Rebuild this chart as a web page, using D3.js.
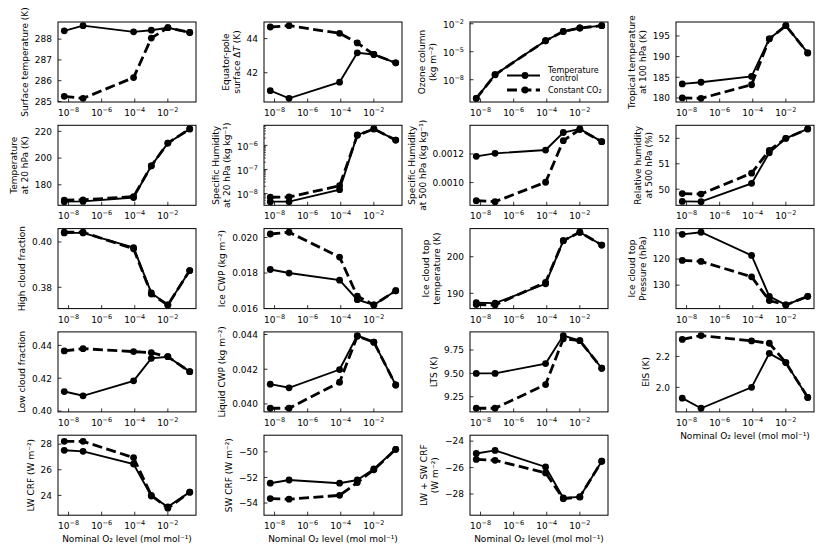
<!DOCTYPE html>
<html lang="en">
<head>
<meta charset="UTF-8">
<title>O2 sensitivity panels</title>
<script src="https://cdn.jsdelivr.net/npm/d3@7/dist/d3.min.js"></script>
<style>
body { margin: 0; background: #fff; }
svg text { font-family: "DejaVu Sans", sans-serif; font-size: 9px; fill: #000; }
</style>
</head>
<body>
<script>
// nominal O2 mixing ratio, shared x of every panel
var o2Levels = [5.5e-9, 7.5e-8, 8.5e-5, 1e-3, 1e-2, 0.21];
var xTicks = [1e-8, 1e-6, 1e-4, 1e-2];
var xLabel = "Nominal O\u2082 level (mol mol\u207B\u00B9)";
var seriesNames = ["Temperature\n control", "Constant CO\u2082"];

// "Ctrl" = temperature control runs, "CO2" = constant CO2 runs
var surfTempCtrl = [288.40, 288.65, 288.35, 288.43, 288.55, 288.32];
var surfTempCO2  = [285.25, 285.15, 286.15, 288.05, 288.55, 288.32];
var surfTempTicks = [285, 286, 287, 288];

var eqPoleCtrl = [40.95, 40.5, 41.45, 43.17, 43.07, 42.58];
var eqPoleCO2  = [44.68, 44.76, 44.31, 43.75, 43.07, 42.58];
var eqPoleTicks = [42, 44];

var ozoneCtrl = [1e-10, 3.5e-8, 1.5e-4, 1.5e-3, 3.5e-3, 6.3e-3];
var ozoneCO2  = [1e-10, 3.4e-8, 1.5e-4, 1.5e-3, 3.5e-3, 6.3e-3];
var ozoneTicks = [1e-8, 1e-5, 1e-2];

var trop100Ctrl = [183.4, 183.8, 185.2, 194.3, 197.5, 190.9];
var trop100CO2  = [180.0, 179.9, 183.2, 194.3, 197.5, 190.9];
var trop100Ticks = [180, 185, 190, 195];

var temp20Ctrl = [167.4, 167.6, 170.5, 194.2, 211.2, 221.8];
var temp20CO2  = [168.6, 168.8, 171.2, 194.2, 211.2, 221.8];
var temp20Ticks = [180, 200, 220];

var sh20Ctrl = [4.6e-9, 4.6e-9, 1.45e-8, 2.7e-6, 4.8e-6, 1.65e-6];
var sh20CO2  = [7.0e-9, 7.2e-9, 2.1e-8, 2.6e-6, 4.8e-6, 1.65e-6];
var sh20Ticks = [1e-8, 1e-7, 1e-6];

var sh500Ctrl = [0.001184, 0.001205, 0.001228, 0.001351, 0.001376, 0.001287];
var sh500CO2  = [0.000873, 0.000866, 0.001002, 0.001294, 0.001372, 0.001287];
var sh500Ticks = [0.0010, 0.0012];

var rh500Ctrl = [49.52, 49.51, 50.23, 51.43, 52.0, 52.37];
var rh500CO2  = [49.83, 49.81, 50.63, 51.53, 52.0, 52.37];
var rh500Ticks = [50, 51, 52];

var highCldCtrl = [0.4040, 0.4040, 0.3975, 0.3775, 0.3722, 0.3874];
var highCldCO2  = [0.4043, 0.4043, 0.3970, 0.3770, 0.3722, 0.3874];
var highCldTicks = [0.38, 0.40];

var iceCwpCtrl = [0.0182, 0.0180, 0.0176, 0.0165, 0.0162, 0.0170];
var iceCwpCO2  = [0.0202, 0.0203, 0.0189, 0.0167, 0.0162, 0.0170];
var iceCwpTicks = [0.016, 0.018, 0.020];

var iceTopTCtrl = [187.4, 187.3, 192.6, 204.4, 206.7, 203.2];
var iceTopTCO2  = [186.9, 186.8, 193.0, 204.4, 206.7, 203.2];
var iceTopTTicks = [190, 200];

var iceTopPCtrl = [110.5, 109.7, 118.6, 134.3, 137.6, 134.3];
var iceTopPCO2  = [120.5, 120.9, 126.8, 135.9, 137.6, 134.3];
var iceTopPTicks = [110, 120, 130];

var lowCldCtrl = [0.4119, 0.4093, 0.4184, 0.4321, 0.4331, 0.4240];
var lowCldCO2  = [0.4366, 0.4380, 0.4362, 0.4356, 0.4331, 0.4240];
var lowCldTicks = [0.40, 0.42, 0.44];

var liqCwpCtrl = [0.04114, 0.04093, 0.04198, 0.04394, 0.04356, 0.04109];
var liqCwpCO2  = [0.03975, 0.03975, 0.04125, 0.04390, 0.04356, 0.04109];
var liqCwpTicks = [0.040, 0.042, 0.044];

var ltsCtrl = [9.50, 9.50, 9.605, 9.905, 9.85, 9.555];
var ltsCO2  = [9.127, 9.127, 9.38, 9.87, 9.85, 9.555];
var ltsTicks = [9.25, 9.50, 9.75];

var eisCtrl = [1.93, 1.865, 2.0, 2.22, 2.16, 1.935];
var eisCO2  = [2.31, 2.335, 2.30, 2.285, 2.16, 1.935];
var eisTicks = [2.0, 2.2];

var lwCrfCtrl = [27.52, 27.44, 26.45, 23.95, 23.1, 24.25];
var lwCrfCO2  = [28.22, 28.22, 26.95, 24.0, 23.0, 24.25];
var lwCrfTicks = [24, 26, 28];

var swCrfCtrl = [-52.45, -52.2, -52.45, -52.2, -51.34, -49.8];
var swCrfCO2  = [-53.65, -53.7, -53.4, -52.4, -51.4, -49.8];
var swCrfTicks = [-54, -52, -50];

var netCrfCtrl = [-24.93, -24.7, -25.95, -28.3, -28.22, -25.52];
var netCrfCO2  = [-25.38, -25.45, -26.4, -28.35, -28.22, -25.52];
var netCrfTicks = [-28, -26, -24];

var panels = [
  {label: ["Surface temperature (K)"], ctrl: surfTempCtrl, co2: surfTempCO2, ticks: surfTempTicks, fmt: ".0f"},
  {label: ["Equator-pole", "surface \u0394_T_ (K)"], ctrl: eqPoleCtrl, co2: eqPoleCO2, ticks: eqPoleTicks, fmt: ".0f"},
  {label: ["Ozone column", "(kg m\u207B\u00B2)"], ctrl: ozoneCtrl, co2: ozoneCO2, ticks: ozoneTicks, log: true, legend: true},
  {label: ["Tropical temperature", "at 100 hPa (K)"], ctrl: trop100Ctrl, co2: trop100CO2, ticks: trop100Ticks, fmt: ".0f"},
  {label: ["Temperature", "at 20 hPa (K)"], ctrl: temp20Ctrl, co2: temp20CO2, ticks: temp20Ticks, fmt: ".0f"},
  {label: ["Specific Humidity", "at 20 hPa (kg kg\u207B\u00B9)"], ctrl: sh20Ctrl, co2: sh20CO2, ticks: sh20Ticks, log: true, minor: true},
  {label: ["Specific Humidity", "at 500 hPa (kg kg\u207B\u00B9)"], ctrl: sh500Ctrl, co2: sh500CO2, ticks: sh500Ticks, fmt: ".4f"},
  {label: ["Relative humidity", "at 500 hPa (%)"], ctrl: rh500Ctrl, co2: rh500CO2, ticks: rh500Ticks, fmt: ".0f"},
  {label: ["High cloud fraction"], ctrl: highCldCtrl, co2: highCldCO2, ticks: highCldTicks, fmt: ".2f"},
  {label: ["Ice CWP (kg m\u207B\u00B2)"], ctrl: iceCwpCtrl, co2: iceCwpCO2, ticks: iceCwpTicks, fmt: ".3f"},
  {label: ["Ice cloud top", "temperature (K)"], ctrl: iceTopTCtrl, co2: iceTopTCO2, ticks: iceTopTTicks, fmt: ".0f"},
  {label: ["Ice cloud top", "Pressure (hPa)"], ctrl: iceTopPCtrl, co2: iceTopPCO2, ticks: iceTopPTicks, fmt: ".0f", invert: true},
  {label: ["Low cloud fraction"], ctrl: lowCldCtrl, co2: lowCldCO2, ticks: lowCldTicks, fmt: ".2f", lim: [0.3995, 0.4482]},
  {label: ["Liquid CWP (kg m\u207B\u00B2)"], ctrl: liqCwpCtrl, co2: liqCwpCO2, ticks: liqCwpTicks, fmt: ".3f"},
  {label: ["LTS (K)"], ctrl: ltsCtrl, co2: ltsCO2, ticks: ltsTicks, fmt: ".2f"},
  {label: ["EIS (K)"], ctrl: eisCtrl, co2: eisCO2, ticks: eisTicks, fmt: ".1f"},
  {label: ["LW CRF (W m\u207B\u00B2)"], ctrl: lwCrfCtrl, co2: lwCrfCO2, ticks: lwCrfTicks, fmt: ".0f", lim: [22.45, 28.7]},
  {label: ["SW CRF (W m\u207B\u00B2)"], ctrl: swCrfCtrl, co2: swCrfCO2, ticks: swCrfTicks, fmt: ".0f", lim: [-54.95, -48.7]},
  {label: ["LW + SW CRF", "(W m\u207B\u00B2)"], ctrl: netCrfCtrl, co2: netCrfCO2, ticks: netCrfTicks, fmt: ".0f", lim: [-29.6, -23.55]}
];

var W = 830, H = 554;
var colLeft = [58, 264, 470, 676];
var rowTop = [22, 125.3, 228.6, 331.9, 435.2];
var pw = 138, ph = 80;
var tickLen = 3.5;
var dashes = "10,4.4";

var svg = d3.select("body").append("svg")
  .attr("width", W).attr("height", H);

function padLin(vals) {
  var lo = d3.min(vals), hi = d3.max(vals), m = (hi - lo) * 0.05;
  return [lo - m, hi + m];
}
function padLog(vals) {
  var lo = Math.log10(d3.min(vals)), hi = Math.log10(d3.max(vals)), m = (hi - lo) * 0.05;
  return [Math.pow(10, lo - m), Math.pow(10, hi + m)];
}
// "10" with raised exponent, like matplotlib's log labels
function powLabel(t, v) {
  var e = Math.round(Math.log10(v));
  t.text("10");
  t.append("tspan").attr("dy", -4).attr("font-size", "6.5px")
    .text(e < 0 ? "\u2212" + (-e) : "" + e);
}
// one line of an axis label, _x_ marks italic
function richText(t, str) {
  str.split(/(_[^_]+_)/).forEach(function(part) {
    if (!part) return;
    var s = t.append("tspan");
    if (part[0] === "_") s.text(part.slice(1, -1)).attr("font-style", "italic");
    else s.text(part);
  });
}

var x = d3.scaleLog().domain(padLog(o2Levels)).range([0, pw]);

panels.forEach(function(p, i) {
  var r = Math.floor(i / 4), c = i % 4;
  var g = svg.append("g").attr("transform", "translate(" + colLeft[c] + "," + rowTop[r] + ")");
  var both = p.ctrl.concat(p.co2);
  var y = p.log ? d3.scaleLog() : d3.scaleLinear();
  y.domain(p.lim || (p.log ? padLog(both) : padLin(both)))
   .range(p.invert ? [0, ph] : [ph, 0]);

  var line = d3.line()
    .x(function(d, k) { return x(o2Levels[k]); })
    .y(function(d) { return y(d); });

  [p.ctrl, p.co2].forEach(function(s, k) {
    g.append("path").datum(s)
      .attr("d", line)
      .attr("fill", "none")
      .attr("stroke", "#000")
      .attr("stroke-width", k ? 2.8 : 1.9)
      .attr("stroke-dasharray", k ? dashes : null);
    g.selectAll(null).data(s).enter().append("circle")
      .attr("cx", function(d, j) { return x(o2Levels[j]); })
      .attr("cy", function(d) { return y(d); })
      .attr("r", 3.4)
      .attr("fill", "#000");
  });

  // x ticks (inward) and labels
  xTicks.forEach(function(t) {
    g.append("line").attr("x1", x(t)).attr("x2", x(t))
      .attr("y1", ph).attr("y2", ph - tickLen)
      .attr("stroke", "#000").attr("stroke-width", 0.8);
    var lab = g.append("text").attr("x", x(t)).attr("y", ph + 14)
      .attr("text-anchor", "middle");
    powLabel(lab, t);
  });

  // y ticks
  var yt = g.append("g");
  p.ticks.forEach(function(t) {
    g.append("line").attr("x1", 0).attr("x2", tickLen)
      .attr("y1", y(t)).attr("y2", y(t))
      .attr("stroke", "#000").attr("stroke-width", 0.8);
    var lab = yt.append("text").attr("x", -6)
      .attr("y", y(t) + (p.log ? 4.6 : 3.3))
      .attr("text-anchor", "end");
    if (p.log) powLabel(lab, t);
    else lab.text(d3.format(p.fmt)(t));
  });
  if (p.minor) {
    var dom = y.domain();
    for (var e = Math.floor(Math.log10(dom[0])); e <= Math.ceil(Math.log10(dom[1])); e++) {
      for (var m = 2; m < 10; m++) {
        var v = m * Math.pow(10, e);
        if (v < dom[0] || v > dom[1]) continue;
        g.append("line").attr("x1", 0).attr("x2", 2)
          .attr("y1", y(v)).attr("y2", y(v))
          .attr("stroke", "#000").attr("stroke-width", 0.6);
      }
    }
  }

  // frame
  g.append("rect").attr("width", pw).attr("height", ph)
    .attr("fill", "none").attr("stroke", "#000").attr("stroke-width", 1);

  // y label placed just left of the widest tick label
  var bx = yt.node().getBBox().x;
  var lastX = bx - 7;
  var n = p.label.length;
  p.label.forEach(function(str, k) {
    var lx = lastX - (n - 1 - k) * 10.8;
    var t = g.append("text")
      .attr("transform", "translate(" + lx + "," + ph / 2 + ") rotate(-90)")
      .attr("text-anchor", "middle");
    richText(t, str);
  });

  // x label only where no panel sits below
  if (i + 4 >= panels.length) {
    g.append("text").attr("x", pw / 2).attr("y", ph + 27)
      .attr("text-anchor", "middle").text(xLabel);
  }

  if (p.legend) {
    var lg = g.append("g").attr("transform", "translate(37,0)");
    [53.5, 68].forEach(function(ly, k) {
      lg.append("line").attr("x1", 0).attr("x2", 33).attr("y1", ly).attr("y2", ly)
        .attr("stroke", "#000").attr("stroke-width", k ? 2.8 : 1.9)
        .attr("stroke-dasharray", k ? dashes : null);
      lg.append("circle").attr("cx", 18).attr("cy", ly).attr("r", 3.4).attr("fill", "#000");
    });
    var nameLines = seriesNames[0].split("\n");
    lg.append("text").attr("x", 41).attr("y", 50.5).style("font-size", "8px").text(nameLines[0]);
    lg.append("text").attr("x", 41).attr("y", 59).style("font-size", "8px")
      .attr("xml:space", "preserve").style("white-space", "pre").text(nameLines[1]);
    lg.append("text").attr("x", 41).attr("y", 71).style("font-size", "8px").text(seriesNames[1]);
  }
});
</script>
</body>
</html>
